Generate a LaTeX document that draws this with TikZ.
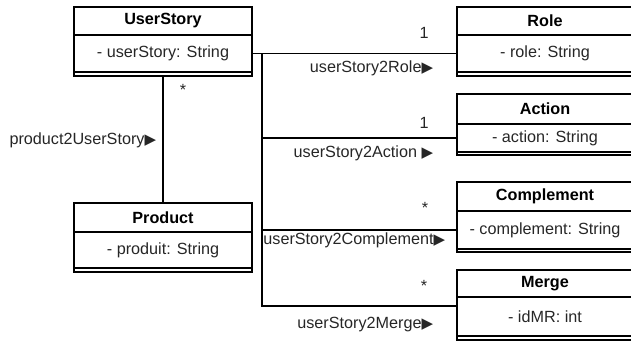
\documentclass[tikz,border=0pt]{standalone}
\usepackage{fontspec}
\setmainfont{Liberation Sans}
\newfontfamily\symfont{DejaVu Sans}
\usepackage{tikz}
\usetikzlibrary{positioning}

\newcommand{\tri}{{\symfont\fontsize{15}{15}\selectfont ▶}}

\begin{document}
\begin{tikzpicture}[x=1pt,y=-1pt,line width=1.8pt,
    every node/.style={font=\fontsize{16.2}{19}\selectfont,text=black!85},
    head/.style={draw,line width=1.5pt,outer sep=0pt,inner sep=0pt,font=\fontsize{16.2}{19}\selectfont\bfseries,text=black},
    body/.style={draw,line width=1.5pt,outer sep=0pt,inner sep=0pt},
    ops/.style={draw,line width=1.5pt,outer sep=0pt,inner sep=0pt},
    lbl/.style={inner sep=0pt}]

      \useasboundingbox (0,0) rectangle (631,341);

      % classes on the left
      \node[head,minimum width=178,minimum height=28] (us) at (163,21) {UserStory};
      \node[body,minimum width=178,minimum height=37,below=0pt of us] (usAttr) {- userStory: String};
      \node[ops,minimum width=178,minimum height=4,below=0pt of usAttr] (usOps) {};

      \node[head,minimum width=178,minimum height=29] (prod) at (163,217.5) {Product};
      \node[body,minimum width=178,minimum height=36,below=0pt of prod] (prodAttr) {- produit: String};
      \node[ops,minimum width=178,minimum height=4,below=0pt of prodAttr] (prodOps) {};

      % classes on the right
      \node[head,minimum width=176,minimum height=28] (role) at (545,21) {Role};
      \node[body,minimum width=176,minimum height=37,below=0pt of role] (roleAttr) {- role: String};
      \node[ops,minimum width=176,minimum height=4,below=0pt of roleAttr] (roleOps) {};

      \node[head,minimum width=176,minimum height=30] (act) at (545,109) {Action};
      \node[body,minimum width=176,minimum height=28,below=0pt of act] (actAttr) {- action: String};
      \node[ops,minimum width=176,minimum height=3,below=0pt of actAttr] (actOps) {};

      \node[head,minimum width=176,minimum height=29] (cmp) at (545,196.5) {Complement};
      \node[body,minimum width=176,minimum height=38,below=0pt of cmp] (cmpAttr) {- complement: String};
      \node[ops,minimum width=176,minimum height=3,below=0pt of cmpAttr] (cmpOps) {};

      \node[head,minimum width=176,minimum height=27] (mrg) at (545,283.5) {Merge};
      \node[body,minimum width=176,minimum height=39,below=0pt of mrg] (mrgAttr) {- idMR: int};
      \node[ops,minimum width=176,minimum height=4,below=0pt of mrgAttr] (mrgOps) {};

      % associations
      \draw (usOps.south) -- (prod.north);
      \draw (usAttr.east) -- (roleAttr.west);
      \draw (usAttr.east) -- ++(10,0) coordinate (hub) |- (mrgAttr.173);
      \draw (hub) |- (actAttr.west);
      \draw (hub) |- (cmpAttr.west);

      % multiplicities and role names
      \node[lbl] (mProd) at (183,90) {*};
      \node[lbl,anchor=east] (nProd) at (157,140) {product2UserStory\tri};

      \node[lbl] (mRole) at (424,33) {1};
      \node[lbl,anchor=east] (nRole) at (434,68) {userStory2Role\tri};

      \node[lbl] (mAct) at (424,123) {1};
      \node[lbl,anchor=east] (nAct) at (434,153) {userStory2Action \tri};

      \node[lbl] (mCmp) at (425,208) {*};
      \node[lbl,anchor=east] (nCmp) at (446,240) {userStory2Complement\tri};

      \node[lbl] (mMrg) at (424,286) {*};
      \node[lbl,anchor=east] (nMrg) at (434,325) {userStory2Merge\tri};
    \end{tikzpicture}
\end{document}
